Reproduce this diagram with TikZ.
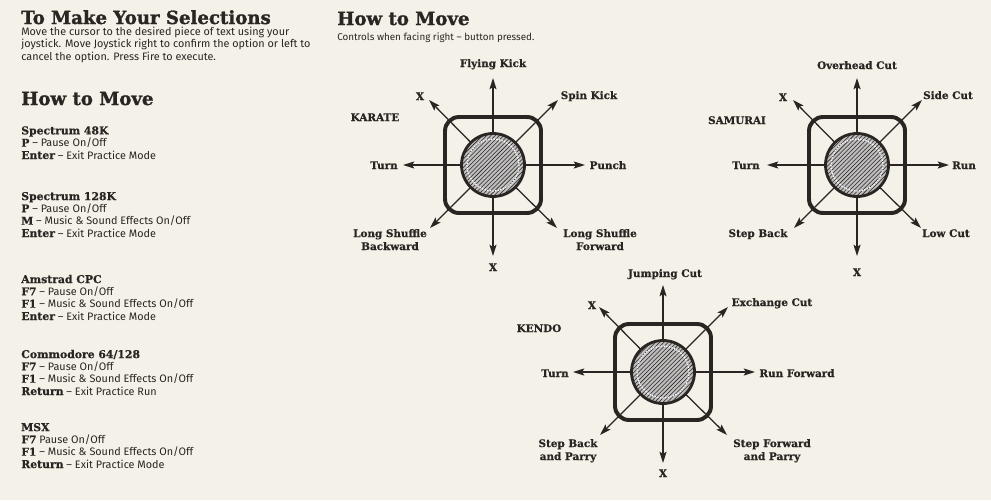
\documentclass[tikz,border=0pt]{standalone}
\usepackage{fontspec}
\setmainfont{Fira Sans}
\newfontfamily\slabfont{DejaVu Serif}[FakeBold=0.6]
\newfontfamily\headfont{DejaVu Serif}[FakeBold=1.4]
\usetikzlibrary{arrows.meta, patterns}

\definecolor{paper}{HTML}{F3F1E8}
\definecolor{ink}{HTML}{2A2523}
\newcommand{\keyb}[1]{{\slabfont\bfseries #1}}

\tikzset{
  heading/.style={anchor=base west, inner sep=0pt, text=ink, font=\headfont\bfseries\fontsize{12.9}{14}\selectfont},
  blurb/.style={anchor=base west, inner sep=0pt, text=ink, align=left, font=\fontsize{7.7}{7.1}\selectfont},
  keys/.style={anchor=base west, inner sep=0pt, text=ink, align=left, font=\fontsize{7.7}{8.75}\selectfont},
  movetext/.style={anchor=base, inner sep=0pt, text=ink, align=center, font=\slabfont\bfseries\fontsize{7.4}{9.2}\selectfont},
  pad/.style={draw=ink, line width=2.8pt, rounded corners=0.35cm},
  dirarrow/.style={draw=ink, line width=0.9pt, -{Stealth[length=8pt, width=5pt, inset=1.5pt]}},
  knob/.style={draw=ink, line width=2pt, preaction={fill=gray!50}, pattern=north east lines, pattern color=ink},
  ring/.style={draw=white, line width=0.9pt, densely dotted}
}

\begin{document}
\begin{tikzpicture}[x=0.025cm, y=-0.025cm]
    \fill[paper] (0,0) rectangle (991,500);

    % left column (multi-line nodes sit on their last baseline)
    \node[heading] (selhead) at (21,24) {To Make Your Selections};
    \node[blurb] (selbody) at (21,60) {Move the cursor to the desired piece of text using your\\
        joystick. Move Joystick right to confirm the option or left to\\
        cancel the option. Press Fire to execute.};
    \node[heading] (movehead) at (21,105) {How to Move};
    \node[keys] (spec48) at (21,159) {\keyb{Spectrum 48K}\\
        \keyb{P} -- Pause On/Off\\
        \keyb{Enter} -- Exit Practice Mode};
    \node[keys] (spec128) at (21,237) {\keyb{Spectrum 128K}\\
        \keyb{P} -- Pause On/Off\\
        \keyb{M} -- Music \& Sound Effects On/Off\\
        \keyb{Enter} -- Exit Practice Mode};
    \node[keys] (cpc) at (21,320) {\keyb{Amstrad CPC}\\
        \keyb{F7} -- Pause On/Off\\
        \keyb{F1} -- Music \& Sound Effects On/Off\\
        \keyb{Enter} -- Exit Practice Mode};
    \node[keys] (c64) at (21,395) {\keyb{Commodore 64/128}\\
        \keyb{F7} -- Pause On/Off\\
        \keyb{F1} -- Music \& Sound Effects On/Off\\
        \keyb{Return} -- Exit Practice Run};
    \node[keys] (msx) at (21,468) {\keyb{MSX}\\
        \keyb{F7} Pause On/Off\\
        \keyb{F1} -- Music \& Sound Effects On/Off\\
        \keyb{Return} -- Exit Practice Mode};

    % joystick pages
    \node[heading] (ctrlhead) at (337,25) {How to Move};
    \node[blurb, font=\fontsize{7}{7.1}\selectfont] (ctrlnote) at (337,40) {Controls when facing right -- button pressed.};

    \coordinate (kar) at (493,165);
    \coordinate (sam) at (857,165);
    \coordinate (ken) at (663,372);
    \foreach \c in {kar,sam,ken} {
        \coordinate (\c-n) at ([shift={(0,-87)}]\c);
        \coordinate (\c-ne) at ([shift={(65,-65)}]\c);
        \coordinate (\c-e) at ([shift={(92,0)}]\c);
        \coordinate (\c-se) at ([shift={(64,63)}]\c);
        \coordinate (\c-s) at ([shift={(0,91)}]\c);
        \coordinate (\c-sw) at ([shift={(-63,63)}]\c);
        \coordinate (\c-w) at ([shift={(-90,0)}]\c);
        \coordinate (\c-nw) at ([shift={(-64,-65)}]\c);
        \begin{scope}[shift={(\c)}]
            \draw[pad] (-48,-48) rectangle (48,48);
        \end{scope}
        \foreach \d in {n,ne,e,se,s,sw,w,nw} {
            \draw[dirarrow] (\c) -- (\c-\d);
        }
        \draw[knob] (\c) circle[radius=31.5];
        \draw[ring] (\c) circle[radius=26];
    }

    % karate
    \node[movetext] (kar-style) at (375,121) {KARATE};
    \node[movetext] (kar-up) at (493,67) {Flying Kick};
    \node[movetext] (kar-upback) at (420,100) {X};
    \node[movetext] (kar-upfwd) at (589,99) {Spin Kick};
    \node[movetext] (kar-back) at (384,169) {Turn};
    \node[movetext] (kar-fwd) at (608,169) {Punch};
    \node[movetext] (kar-downback) at (390,250) {Long Shuffle\\ Backward};
    \node[movetext] (kar-downfwd) at (600,250) {Long Shuffle\\ Forward};
    \node[movetext] (kar-down) at (493,271) {X};

    % samurai
    \node[movetext] (sam-style) at (737,124) {SAMURAI};
    \node[movetext] (sam-up) at (857,69) {Overhead Cut};
    \node[movetext] (sam-upback) at (783,101) {X};
    \node[movetext] (sam-upfwd) at (948,99) {Side Cut};
    \node[movetext] (sam-back) at (746,169) {Turn};
    \node[movetext] (sam-fwd) at (964,169) {Run};
    \node[movetext] (sam-downback) at (758,237) {Step Back};
    \node[movetext] (sam-downfwd) at (946,237) {Low Cut};
    \node[movetext] (sam-down) at (857,276) {X};

    % kendo
    \node[movetext] (ken-style) at (539,332) {KENDO};
    \node[movetext] (ken-up) at (665,277) {Jumping Cut};
    \node[movetext] (ken-upback) at (592,309) {X};
    \node[movetext] (ken-upfwd) at (772,306) {Exchange Cut};
    \node[movetext] (ken-back) at (555,377) {Turn};
    \node[movetext] (ken-fwd) at (797,377) {Run Forward};
    \node[movetext] (ken-downback) at (568,460) {Step Back\\ and Parry};
    \node[movetext] (ken-downfwd) at (772,460) {Step Forward\\ and Parry};
    \node[movetext] (ken-down) at (663,477) {X};
\end{tikzpicture}
\end{document}
